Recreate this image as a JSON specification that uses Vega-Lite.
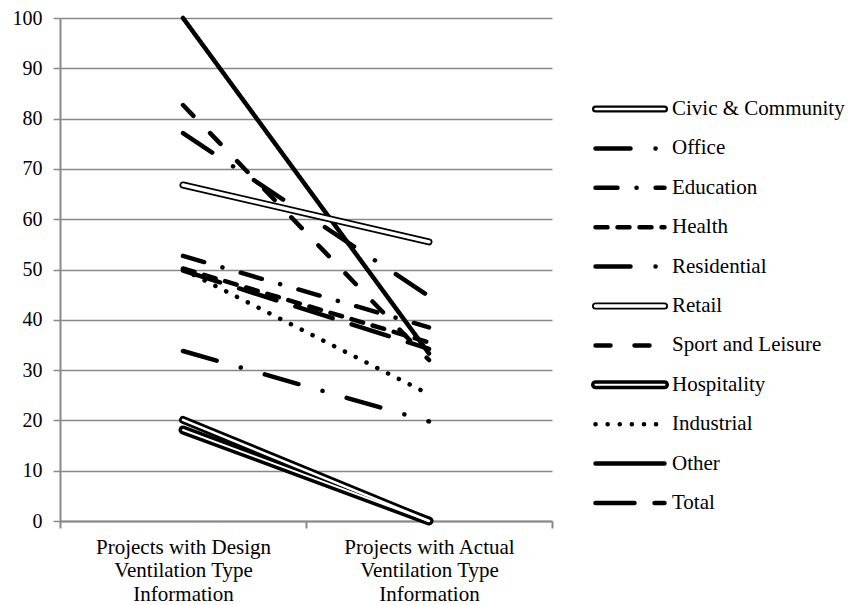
{
  "$schema": "https://vega.github.io/schema/vega-lite/v6.json",
  "padding": {"left": 12, "top": 8, "right": 0, "bottom": 0},
  "background": "white",
  "config": {"view": {"stroke": null}, "font": "Liberation Serif"},
  "datasets": {
    "main": [
      {"series": "Civic & Community", "category": "Projects with Design Ventilation Type Information", "value": 20.1},
      {"series": "Civic & Community", "category": "Projects with Actual Ventilation Type Information", "value": 0},
      {"series": "Office", "category": "Projects with Design Ventilation Type Information", "value": 77.1},
      {"series": "Office", "category": "Projects with Actual Ventilation Type Information", "value": 44.7},
      {"series": "Education", "category": "Projects with Design Ventilation Type Information", "value": 52.7},
      {"series": "Education", "category": "Projects with Actual Ventilation Type Information", "value": 38.5},
      {"series": "Health", "category": "Projects with Design Ventilation Type Information", "value": 50.2},
      {"series": "Health", "category": "Projects with Actual Ventilation Type Information", "value": 35.5},
      {"series": "Residential", "category": "Projects with Design Ventilation Type Information", "value": 33.8},
      {"series": "Residential", "category": "Projects with Actual Ventilation Type Information", "value": 19.8},
      {"series": "Retail", "category": "Projects with Design Ventilation Type Information", "value": 66.8},
      {"series": "Retail", "category": "Projects with Actual Ventilation Type Information", "value": 55.5},
      {"series": "Sport and Leisure", "category": "Projects with Design Ventilation Type Information", "value": 82.7},
      {"series": "Sport and Leisure", "category": "Projects with Actual Ventilation Type Information", "value": 32},
      {"series": "Hospitality", "category": "Projects with Design Ventilation Type Information", "value": 18.1},
      {"series": "Hospitality", "category": "Projects with Actual Ventilation Type Information", "value": 0},
      {"series": "Industrial", "category": "Projects with Design Ventilation Type Information", "value": 50},
      {"series": "Industrial", "category": "Projects with Actual Ventilation Type Information", "value": 25.2},
      {"series": "Other", "category": "Projects with Design Ventilation Type Information", "value": 100},
      {"series": "Other", "category": "Projects with Actual Ventilation Type Information", "value": 33.3},
      {"series": "Total", "category": "Projects with Design Ventilation Type Information", "value": 49.8},
      {"series": "Total", "category": "Projects with Actual Ventilation Type Information", "value": 34.2}
    ]
  },
  "spacing": 20,
  "hconcat": [
    {
      "width": 492,
      "height": 503,
      "data": {"name": "main"},
      "encoding": {
        "x": {
          "field": "category", "type": "nominal",
          "sort": ["Projects with Design Ventilation Type Information", "Projects with Actual Ventilation Type Information"],
          "scale": {"type": "band", "paddingInner": 0, "paddingOuter": 0},
          "axis": {
            "title": null, "labelAngle": 0, "labelFontSize": 21, "labelFont": "Liberation Serif",
            "labelColor": "black", "labelLineHeight": 23.5, "labelBaseline": "top", "labelPadding": 8,
            "labelLimit": 0, "tickSize": 7, "tickColor": "#898989", "tickWidth": 2,
            "domainColor": "#898989", "domainWidth": 2, "tickBand": "extent", "grid": false,
            "labelExpr": "datum.label ? [slice(datum.label, 0, indexof(datum.label, ' Ventilation')), 'Ventilation Type', 'Information'] : ''"
          }
        },
        "y": {
          "field": "value", "type": "quantitative",
          "scale": {"domain": [0, 100], "nice": false},
          "axis": {
            "title": null, "values": [0, 10, 20, 30, 40, 50, 60, 70, 80, 90, 100], "grid": true,
            "gridColor": "#898989", "gridWidth": 1.5, "domainColor": "#898989", "domainWidth": 2,
            "tickColor": "#898989", "tickWidth": 1.5, "tickSize": 7, "labelFontSize": 20,
            "labelFont": "Liberation Serif", "labelColor": "black", "labelPadding": 11
          }
        },
        "detail": {"field": "series"}
      },
      "layer": [
        {
          "transform": [{"filter": {"not": {"field": "series", "oneOf": ["Civic & Community", "Retail", "Hospitality"]}}}],
          "mark": {"type": "line", "strokeCap": "round", "strokeJoin": "round", "color": "black", "strokeWidth": 4.5},
          "encoding": {
            "strokeDash": {
              "field": "series", "type": "nominal", "legend": null,
              "scale": {
                "domain": ["Office", "Education", "Health", "Residential", "Sport and Leisure", "Industrial", "Other", "Total"],
                "range": [[35, 25, 0.1, 25], [22, 19, 0.1, 19], [12, 10], [35, 25, 0.1, 25], [15, 24], [0.1, 12], [1, 0], [39, 20]]
              }
            }
          }
        },
        {
          "transform": [{"filter": {"field": "series", "equal": "Retail"}}],
          "mark": {"type": "line", "strokeCap": "round", "color": "black", "strokeWidth": 7}
        },
        {
          "transform": [{"filter": {"field": "series", "equal": "Civic & Community"}}],
          "mark": {"type": "line", "strokeCap": "round", "color": "black", "strokeWidth": 8}
        },
        {
          "transform": [{"filter": {"field": "series", "equal": "Hospitality"}}],
          "mark": {"type": "line", "strokeCap": "round", "color": "black", "strokeWidth": 9}
        },
        {
          "transform": [{"filter": {"field": "series", "equal": "Retail"}}],
          "mark": {"type": "line", "strokeCap": "round", "color": "white", "strokeWidth": 3.5}
        },
        {
          "transform": [{"filter": {"field": "series", "equal": "Civic & Community"}}],
          "mark": {"type": "line", "strokeCap": "round", "color": "white", "strokeWidth": 2.5}
        },
        {
          "transform": [{"filter": {"field": "series", "equal": "Hospitality"}}],
          "mark": {"type": "line", "strokeCap": "round", "color": "white", "strokeWidth": 2}
        }
      ]
    },
    {
      "width": 270,
      "height": 503,
      "data": {"name": "main"},
      "transform": [{"filter": "datum.category == 'Projects with Design Ventilation Type Information'"}],
      "encoding": {
        "y": {
          "field": "series", "type": "nominal", "axis": null,
          "scale": {
            "type": "point", "padding": 0, "range": [91, 485],
            "domain": ["Civic & Community", "Office", "Education", "Health", "Residential", "Retail", "Sport and Leisure", "Hospitality", "Industrial", "Other", "Total"]
          }
        }
      },
      "layer": [
        {
          "transform": [{"filter": {"not": {"field": "series", "oneOf": ["Civic & Community", "Retail", "Hospitality"]}}}],
          "mark": {"type": "rule", "strokeCap": "round", "color": "black", "strokeWidth": 4.5},
          "encoding": {
            "x": {"datum": 22.5, "type": "quantitative", "scale": {"domain": [0, 270]}, "axis": null},
            "x2": {"datum": 91.5},
            "strokeDash": {
              "field": "series", "type": "nominal", "legend": null,
              "scale": {
                "domain": ["Office", "Education", "Health", "Residential", "Sport and Leisure", "Industrial", "Other", "Total"],
                "range": [[35, 25, 0.1, 25], [22, 19, 0.1, 19], [12, 10], [35, 25, 0.1, 25], [15, 24], [0.1, 12], [1, 0], [39, 20]]
              }
            }
          }
        },
        {
          "transform": [{"filter": {"field": "series", "equal": "Retail"}}],
          "mark": {"type": "rule", "strokeCap": "round", "color": "black", "strokeWidth": 7},
          "encoding": {"x": {"datum": 22.5, "type": "quantitative", "scale": {"domain": [0, 270]}, "axis": null}, "x2": {"datum": 91.5}}
        },
        {
          "transform": [{"filter": {"field": "series", "equal": "Civic & Community"}}],
          "mark": {"type": "rule", "strokeCap": "round", "color": "black", "strokeWidth": 7},
          "encoding": {"x": {"datum": 22.5, "type": "quantitative", "scale": {"domain": [0, 270]}, "axis": null}, "x2": {"datum": 91.5}}
        },
        {
          "transform": [{"filter": {"field": "series", "equal": "Hospitality"}}],
          "mark": {"type": "rule", "strokeCap": "round", "color": "black", "strokeWidth": 9},
          "encoding": {"x": {"datum": 22.5, "type": "quantitative", "scale": {"domain": [0, 270]}, "axis": null}, "x2": {"datum": 91.5}}
        },
        {
          "transform": [{"filter": {"field": "series", "equal": "Retail"}}],
          "mark": {"type": "rule", "strokeCap": "round", "color": "white", "strokeWidth": 3.5},
          "encoding": {"x": {"datum": 22.5, "type": "quantitative", "scale": {"domain": [0, 270]}, "axis": null}, "x2": {"datum": 91.5}}
        },
        {
          "transform": [{"filter": {"field": "series", "equal": "Civic & Community"}}],
          "mark": {"type": "rule", "strokeCap": "round", "color": "white", "strokeWidth": 2.5},
          "encoding": {"x": {"datum": 22.5, "type": "quantitative", "scale": {"domain": [0, 270]}, "axis": null}, "x2": {"datum": 91.5}}
        },
        {
          "transform": [{"filter": {"field": "series", "equal": "Hospitality"}}],
          "mark": {"type": "rule", "strokeCap": "round", "color": "white", "strokeWidth": 2},
          "encoding": {"x": {"datum": 22.5, "type": "quantitative", "scale": {"domain": [0, 270]}, "axis": null}, "x2": {"datum": 91.5}}
        },
        {
          "mark": {"type": "text", "align": "left", "baseline": "middle", "fontSize": 21, "font": "Liberation Serif", "color": "black"},
          "encoding": {
            "x": {"datum": 99, "type": "quantitative", "scale": {"domain": [0, 270]}, "axis": null},
            "text": {"field": "series"}
          }
        }
      ]
    }
  ],
  "resolve": {"scale": {"x": "independent", "y": "independent", "strokeDash": "independent"}}
}
